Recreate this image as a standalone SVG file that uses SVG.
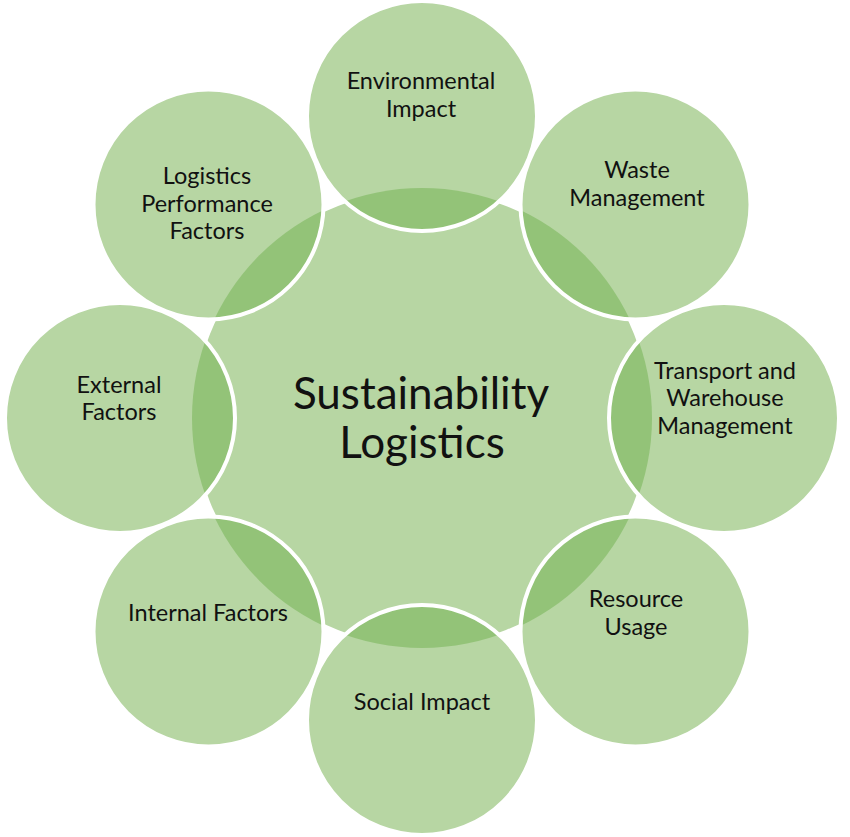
<svg xmlns="http://www.w3.org/2000/svg" width="850" height="837" viewBox="0 0 850 837">
  <defs>
    <clipPath id="centerClip">
      <circle cx="422" cy="418" r="230"/>
    </clipPath>
    <style>
      .hub { fill: #b7d6a3; stroke: #ffffff; stroke-width: 4; }
      .sat { fill: #b7d6a3; stroke: none; }
      .lens { fill: #93c378; stroke: none; }
      .ring { fill: none; stroke: #ffffff; stroke-width: 4; }
      .lbl { font-family: Lato, "Open Sans", "Liberation Sans", sans-serif; font-size: 23.5px; fill: #111111; text-anchor: middle; }
      .title { font-family: Lato, "Open Sans", "Liberation Sans", sans-serif; font-size: 44px; fill: #111111; text-anchor: middle; }
    </style>
  </defs>
  <rect width="850" height="837" fill="#ffffff"/>

  <g id="hub">
    <circle class="hub" cx="422" cy="418" r="230"/>
    <text class="title" x="421" y="409">Sustainability</text>
    <text class="title" x="422" y="458">Logistics</text>
  </g>

  <g id="environmental-impact">
    <circle class="sat" cx="422" cy="116" r="115"/>
    <circle class="lens" cx="422" cy="116" r="115" clip-path="url(#centerClip)"/>
    <circle class="ring" cx="422" cy="116" r="115"/>
    <text class="lbl" x="421" y="89">Environmental</text>
    <text class="lbl" x="421" y="117">Impact</text>
  </g>

  <g id="waste-management">
    <circle class="sat" cx="635.5" cy="204.5" r="115"/>
    <circle class="lens" cx="635.5" cy="204.5" r="115" clip-path="url(#centerClip)"/>
    <circle class="ring" cx="635.5" cy="204.5" r="115"/>
    <text class="lbl" x="637" y="178">Waste</text>
    <text class="lbl" x="637" y="206">Management</text>
  </g>

  <g id="transport-warehouse">
    <circle class="sat" cx="724" cy="418" r="115"/>
    <circle class="lens" cx="724" cy="418" r="115" clip-path="url(#centerClip)"/>
    <circle class="ring" cx="724" cy="418" r="115"/>
    <text class="lbl" x="725" y="379">Transport and</text>
    <text class="lbl" x="725" y="406">Warehouse</text>
    <text class="lbl" x="725" y="434">Management</text>
  </g>

  <g id="resource-usage">
    <circle class="sat" cx="635.5" cy="631.5" r="115"/>
    <circle class="lens" cx="635.5" cy="631.5" r="115" clip-path="url(#centerClip)"/>
    <circle class="ring" cx="635.5" cy="631.5" r="115"/>
    <text class="lbl" x="636" y="607">Resource</text>
    <text class="lbl" x="636" y="635">Usage</text>
  </g>

  <g id="social-impact">
    <circle class="sat" cx="422" cy="720" r="115"/>
    <circle class="lens" cx="422" cy="720" r="115" clip-path="url(#centerClip)"/>
    <circle class="ring" cx="422" cy="720" r="115"/>
    <text class="lbl" x="422" y="710">Social Impact</text>
  </g>

  <g id="internal-factors">
    <circle class="sat" cx="208.5" cy="631.5" r="115"/>
    <circle class="lens" cx="208.5" cy="631.5" r="115" clip-path="url(#centerClip)"/>
    <circle class="ring" cx="208.5" cy="631.5" r="115"/>
    <text class="lbl" x="208" y="621">Internal Factors</text>
  </g>

  <g id="external-factors">
    <circle class="sat" cx="120" cy="418" r="115"/>
    <circle class="lens" cx="120" cy="418" r="115" clip-path="url(#centerClip)"/>
    <circle class="ring" cx="120" cy="418" r="115"/>
    <text class="lbl" x="119" y="393">External</text>
    <text class="lbl" x="119" y="420">Factors</text>
  </g>

  <g id="logistics-performance">
    <circle class="sat" cx="208.5" cy="204.5" r="115"/>
    <circle class="lens" cx="208.5" cy="204.5" r="115" clip-path="url(#centerClip)"/>
    <circle class="ring" cx="208.5" cy="204.5" r="115"/>
    <text class="lbl" x="207" y="184">Logistics</text>
    <text class="lbl" x="207" y="212">Performance</text>
    <text class="lbl" x="207" y="239">Factors</text>
  </g>
</svg>
